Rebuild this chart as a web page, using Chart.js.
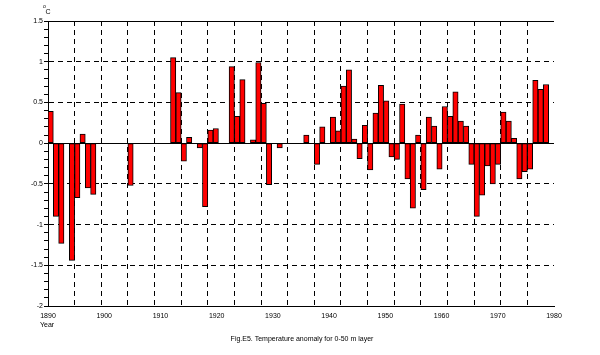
<!DOCTYPE html>
<html>
<head>
<meta charset="utf-8">
<script src="https://cdn.jsdelivr.net/npm/chart.js@4/dist/chart.umd.min.js"></script>
<style>
  html, body { margin: 0; padding: 0; background: #fff; }
  #wrap { width: 600px; height: 355px; }
</style>
</head>
<body>
<div id="wrap"><canvas id="myChart" width="600" height="355"></canvas></div>
<script>
// one slot per year, null = no observation
var startYear = 1890;
var anomaly = [
   0.39, -0.90, -1.23,  null, -1.44, -0.67,  0.11, -0.55, -0.63,  null,
   null,  null,  null,  null,  null, -0.52,  null,  null,  null,  null,
   null,  null,  null,  1.05,  0.62, -0.22,  0.07,  null, -0.06, -0.78,
   0.16,  0.18,  null,  null,  0.94,  0.33,  0.78,  null,  0.04,  0.99,
   0.49, -0.51,  null, -0.06,  null,  null,  null,  null,  0.10,  null,
  -0.26,  0.20,  null,  0.32,  0.15,  0.70,  0.90,  0.05, -0.19,  0.22,
  -0.33,  0.37,  0.71,  0.52, -0.17, -0.20,  0.48, -0.44, -0.80,  0.10,
  -0.57,  0.32,  0.21, -0.32,  0.45,  0.33,  0.63,  0.27,  0.21, -0.26,
  -0.90, -0.64, -0.28, -0.50, -0.26,  0.38,  0.27,  0.06, -0.44, -0.35,
  -0.32,  0.77,  0.66,  0.72,  null
];
var years = anomaly.map(function (v, i) { return String(startYear + i); });
var yearTicks = [1890, 1900, 1910, 1920, 1930, 1940, 1950, 1960, 1970, 1980];
var yMin = -2, yMax = 1.5;

var FONT = '"Liberation Sans", Arial, sans-serif';

var extras = {
  id: 'extras',
  afterDatasetsDraw: function (chart) {
    var ctx = chart.ctx, a = chart.chartArea, y = chart.scales.y;
    ctx.save();
    ctx.strokeStyle = '#000';
    ctx.lineWidth = 1;
    ctx.setLineDash([]);
    var y0 = Math.round(y.getPixelForValue(0)) + 0.5;
    var yt = Math.round(y.getPixelForValue(yMax)) + 0.5;
    ctx.beginPath();
    ctx.moveTo(a.left, y0); ctx.lineTo(a.right, y0);
    ctx.moveTo(a.left, yt); ctx.lineTo(a.right, yt);
    ctx.stroke();
    ctx.restore();
  },
  afterDraw: function (chart) {
    var ctx = chart.ctx;
    ctx.save();
    ctx.fillStyle = '#000';
    ctx.textBaseline = 'middle';
    ctx.textAlign = 'center';
    ctx.font = '5px ' + FONT;
    ctx.fillText('o', 44.5, 7);
    ctx.font = '7px ' + FONT;
    ctx.fillText('C', 48, 12.5);
    ctx.textAlign = 'left';
    ctx.fillText('Year', 40, 325);
    ctx.textAlign = 'center';
    ctx.fillText('Fig.E5. Temperature anomaly for 0-50 m layer', 302, 339);
    ctx.restore();
  }
};

new Chart(document.getElementById('myChart'), {
  type: 'bar',
  data: {
    labels: years,
    datasets: [{
      data: anomaly,
      backgroundColor: '#ff0000',
      borderColor: '#000',
      borderWidth: 1,
      borderSkipped: false,
      barPercentage: 1,
      categoryPercentage: 1,
      xAxisID: 'x',
      yAxisID: 'y'
    }]
  },
  options: {
    responsive: false,
    animation: false,
    layout: { padding: { left: 0, top: 21, right: 46, bottom: 0 } },
    plugins: { legend: { display: false }, tooltip: { enabled: false } },
    scales: {
      x: {
        type: 'category',
        offset: true,
        ticks: { display: false, autoSkip: false },
        grid: {
          offset: true,
          drawTicks: false,
          lineWidth: 1,
          color: function (c) { return c.index % 5 === 0 ? '#000' : 'rgba(0,0,0,0)'; }
        },
        border: { display: true, color: '#000', width: 1, dash: [5, 4] },
        afterFit: function (s) { s.height = 4; }
      },
      xl: {
        type: 'linear',
        axis: 'x',
        position: 'bottom',
        offset: false,
        min: yearTicks[0],
        max: yearTicks[yearTicks.length - 1],
        afterBuildTicks: function (s) { s.ticks = yearTicks.map(function (v) { return { value: v }; }); },
        ticks: {
          autoSkip: false,
          maxRotation: 0,
          padding: 2,
          color: '#000',
          font: { family: FONT, size: 7 },
          callback: function (v) { return String(v); }
        },
        grid: { display: false, drawTicks: false, offset: false },
        border: { display: false },
        afterFit: function (s) { s.height = 45; }
      },
      y: {
        min: yMin,
        max: yMax,
        ticks: {
          stepSize: 0.1,
          autoSkip: false,
          padding: 1,
          color: '#000',
          font: { family: FONT, size: 7 },
          callback: function (v) {
            var r = Math.round(v * 10);
            return r % 5 === 0 ? String(r / 10) : '';
          }
        },
        grid: {
          lineWidth: 1,
          tickLength: 4,
          tickColor: '#000',
          color: function (c) {
            if (!c.tick) return 'rgba(0,0,0,0)';
            return Math.round(c.tick.value * 10) % 5 === 0 ? '#000' : 'rgba(0,0,0,0)';
          }
        },
        border: { display: true, color: '#000', width: 1, dash: [5, 4] },
        afterFit: function (s) { s.width = 48; }
      }
    }
  },
  plugins: [extras]
});
</script>
</body>
</html>
